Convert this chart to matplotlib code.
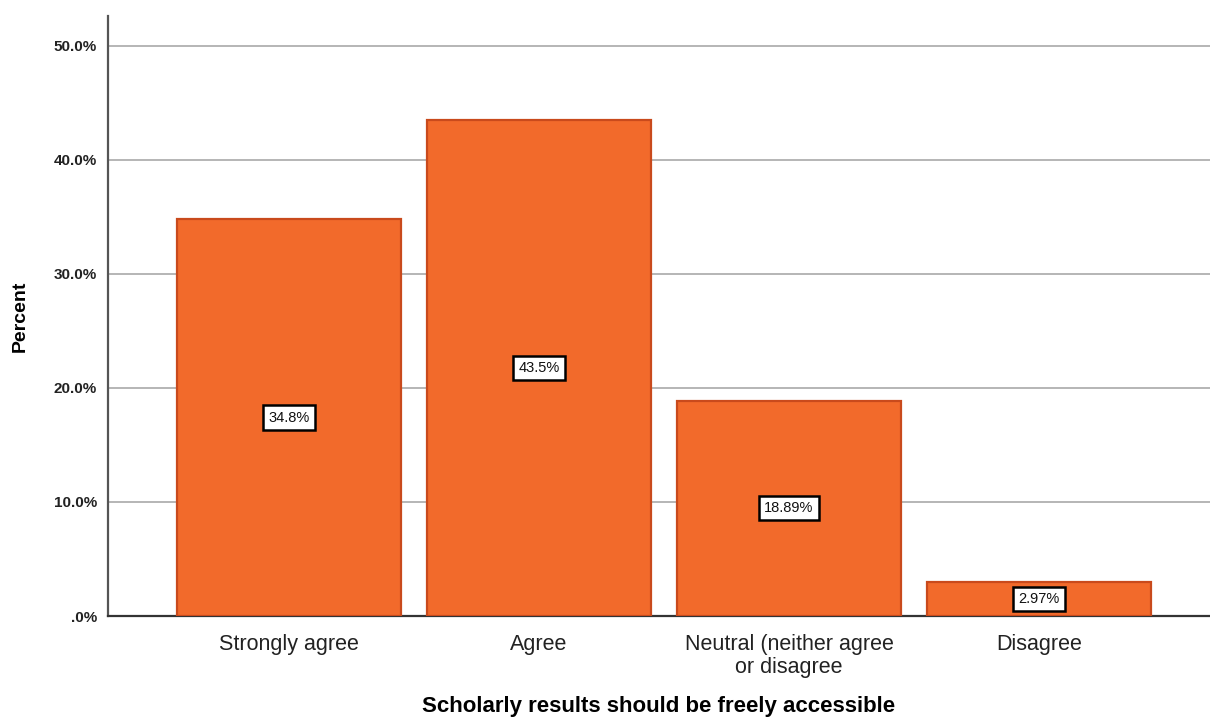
import matplotlib
matplotlib.use("Agg")
import matplotlib.pyplot as plt
from matplotlib.ticker import FuncFormatter

plt.rcParams['font.family'] = ['Liberation Sans', 'DejaVu Sans']

categories = ["Strongly agree", "Agree", "Neutral (neither agree\nor disagree", "Disagree"]
percents = [34.8, 43.5, 18.89, 2.97]
value_labels = ["34.8%", "43.5%", "18.89%", "2.97%"]
y_ticks = [0, 10, 20, 30, 40, 50]

bar_fill = "#F26A2B"
bar_edge = "#C94A1C"

fig = plt.figure(figsize=(12.10, 7.22), dpi=100)
ax = fig.add_axes([108 / 1210, 1 - 616 / 722, 1102 / 1210, 600 / 722])

x = list(range(len(categories)))
ax.bar(x, percents, width=0.896, color=bar_fill, edgecolor=bar_edge,
       linewidth=1.6, zorder=3)

for xi, v, lab in zip(x, percents, value_labels):
    ax.text(xi, v / 2, lab, ha="center", va="center", fontsize=10.5,
            color="#111111", zorder=5,
            bbox=dict(boxstyle="square,pad=0.35", facecolor="white",
                      edgecolor="black", linewidth=1.8))

ax.set_xlim(-0.724, 3.684)
ax.set_ylim(0, 52.6)
ax.set_yticks(y_ticks)
ax.yaxis.set_major_formatter(FuncFormatter(lambda v, p: ".0%" if v == 0 else f"{v:.1f}%"))
ax.set_xticks(x)
ax.set_xticklabels(categories, fontsize=15.5, color="#222222", linespacing=1.1)
ax.tick_params(axis="x", length=0, pad=13)
ax.tick_params(axis="y", length=0, pad=8, labelsize=11, labelcolor="#222222")
for t in ax.get_yticklabels():
    t.set_fontweight("bold")

ax.grid(axis="y", color="#B0B0B0", linewidth=1.3, zorder=0)
ax.set_axisbelow(True)

for side in ("top", "right"):
    ax.spines[side].set_visible(False)
ax.spines["left"].set_color("#555555")
ax.spines["left"].set_linewidth(1.6)
ax.spines["bottom"].set_color("#333333")
ax.spines["bottom"].set_linewidth(1.6)

ax.set_ylabel("Percent", fontsize=14, fontweight="bold", labelpad=18)
ax.set_xlabel("Scholarly results should be freely accessible", fontsize=16,
              fontweight="bold", va="top")
ax.xaxis.set_label_coords(0.5, -0.134)

fig.savefig("out.png", dpi=100, facecolor="white")
